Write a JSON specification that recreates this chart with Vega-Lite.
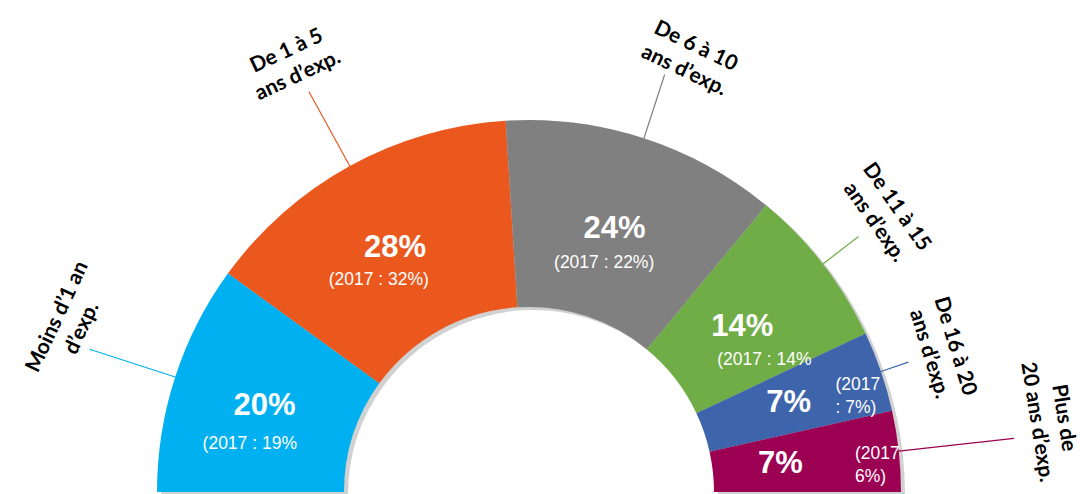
{
  "$schema": "https://vega.github.io/schema/vega-lite/v6.json",
  "width": 1058,
  "height": 494,
  "autosize": {"type": "none"},
  "padding": {"left": 0, "top": 0, "right": 28, "bottom": 0},
  "background": "white",
  "config": {"view": {"stroke": null}},
  "data": {
    "values": [
      {"cat": "Moins d’1 an d’exp.", "order": 1, "share": 0.20, "sub": "(2017 : 19%", "label": "Moins  d’1 an\nd’exp."},
      {"cat": "De 1 à 5 ans d’exp.", "order": 2, "share": 0.28, "sub": "(2017 : 32%)", "label": "De 1 à 5\nans d’exp."},
      {"cat": "De 6 à 10 ans d’exp.", "order": 3, "share": 0.24, "sub": "(2017 : 22%)", "label": "De 6 à 10\nans d’exp."},
      {"cat": "De 11 à 15 ans d’exp.", "order": 4, "share": 0.14, "sub": "(2017 : 14%", "label": "De 11 à 15\nans d’exp."},
      {"cat": "De 16 à 20 ans d’exp.", "order": 5, "share": 0.07, "sub": "(2017\n: 7%)", "label": "De 16 à 20\nans d’exp."},
      {"cat": "Plus de 20 ans d’exp.", "order": 6, "share": 0.07, "sub": "(2017\n6%)", "label": "Plus de\n20 ans d’exp."}
    ]
  },
  "transform": [
    {"stack": "share", "groupby": [], "sort": [{"field": "order", "order": "ascending"}], "as": ["s0", "s1"]},
    {"fold": ["s0", "s1"], "as": ["edge", "pos"]},
    {"aggregate": [
      {"op": "min", "field": "pos", "as": "t0"},
      {"op": "max", "field": "pos", "as": "t1"},
      {"op": "mean", "field": "pos", "as": "mid"}
    ], "groupby": ["cat", "order", "share", "sub", "label"]}
  ],
  "resolve": {"scale": {"radius": "independent", "angle": "independent"}},
  "layer": [
    {
      "mark": {"type": "arc", "x": {"expr": "width/2 + 4"}, "y": {"expr": "height + 1"}, "outerRadius": 372, "innerRadius": 185, "color": "#000000", "opacity": 0.18},
      "encoding": {
        "theta": {"field": "t0", "type": "quantitative", "stack": null, "scale": {"domain": [0, 1], "range": [-1.5708, 1.5708]}},
        "theta2": {"field": "t1"}
      }
    },
    {
      "mark": {"type": "arc", "x": {"expr": "width/2"}, "y": {"expr": "height - 2"}, "outerRadius": 372, "innerRadius": 185},
      "encoding": {
        "theta": {"field": "t0", "type": "quantitative", "stack": null},
        "theta2": {"field": "t1"},
        "color": {
          "field": "cat", "type": "nominal", "legend": null,
          "scale": {
            "domain": ["Moins d’1 an d’exp.", "De 1 à 5 ans d’exp.", "De 6 à 10 ans d’exp.", "De 11 à 15 ans d’exp.", "De 16 à 20 ans d’exp.", "Plus de 20 ans d’exp."],
            "range": ["#00B0F0", "#EB581E", "#808080", "#70AD47", "#3E64AB", "#9C0052"]
          }
        }
      }
    },
    {
      "mark": {"type": "arc", "filled": false, "x": {"expr": "width/2"}, "y": {"expr": "height - 2"}, "innerRadius": 372, "padAngle": 3.14, "strokeWidth": 1.2},
      "encoding": {
        "theta": {"field": "t0", "type": "quantitative", "stack": null},
        "theta2": {"field": "t1"},
        "radius": {"field": "order", "type": "quantitative", "scale": {"type": "linear", "zero": false, "nice": false, "domain": [1, 2, 3, 4, 5, 6], "range": [462, 457, 439, 417, 401, 488]}},
        "color": {"field": "cat", "type": "nominal", "legend": null}
      }
    },
    {
      "mark": {"type": "text", "x": {"expr": "width/2"}, "y": {"expr": "height - 2"}, "font": "Liberation Sans", "fontWeight": "bold", "fontSize": 31, "color": "white", "baseline": "middle", "align": "center"},
      "encoding": {
        "theta": {"field": "mid", "type": "quantitative", "stack": null},
        "radius": {"field": "order", "type": "quantitative", "scale": {"type": "linear", "zero": false, "nice": false, "domain": [1, 2, 3, 4, 5, 6], "range": [278, 278, 277, 270, 274.5, 253]}},
        "text": {"field": "share", "type": "quantitative", "format": ".0%"}
      }
    },
    {
      "mark": {"type": "text", "x": {"expr": "width/2"}, "y": {"expr": "height - 2"}, "dx": -12, "dy": 39, "font": "Liberation Sans", "fontSize": 17.5, "color": "white", "baseline": "middle", "align": "center"},
      "encoding": {
        "theta": {"field": "mid", "type": "quantitative", "stack": null},
        "radius": {"field": "order", "type": "quantitative", "scale": {"type": "linear", "zero": false, "nice": false, "domain": [1, 2, 3, 4, 5, 6], "range": [281, 287, 282, 282, 282, 282]}},
        "text": {"condition": {"test": "datum.order <= 3", "field": "sub"}, "value": ""}
      }
    },
    {
      "mark": {"type": "text", "x": {"expr": "width/2"}, "y": {"expr": "height - 2"}, "dx": 22, "dy": 33, "font": "Liberation Sans", "fontSize": 17.5, "color": "white", "baseline": "middle", "align": "center"},
      "encoding": {
        "theta": {"field": "mid", "type": "quantitative", "stack": null},
        "radius": {"field": "order", "type": "quantitative", "scale": {"type": "linear", "zero": false, "nice": false, "domain": [1, 2, 3, 4, 5, 6], "range": [270, 270, 270, 270, 270, 270]}},
        "text": {"condition": {"test": "datum.order == 4", "field": "sub"}, "value": ""}
      }
    },
    {
      "mark": {"type": "text", "x": {"expr": "width/2"}, "y": {"expr": "height - 2"}, "dy": -2, "font": "Liberation Sans", "fontSize": 17.5, "color": "white", "baseline": "middle", "align": "left", "lineBreak": "\n", "lineHeight": 23},
      "encoding": {
        "theta": {"field": "mid", "type": "quantitative", "stack": null},
        "radius": {"field": "order", "type": "quantitative", "scale": {"type": "linear", "zero": false, "nice": false, "domain": [1, 2, 3, 4, 5, 6], "range": [324, 324, 324, 324, 324, 328]}},
        "text": {"condition": {"test": "datum.order >= 5", "field": "sub"}, "value": ""}
      }
    },
    {
      "mark": {"type": "text", "x": {"expr": "width/2"}, "y": {"expr": "height - 2"}, "dx": 21, "font": "Lato", "fontWeight": "bold", "fontSize": 21, "color": "#000000", "baseline": "middle", "align": "center", "lineBreak": "\n", "lineHeight": 27},
      "encoding": {
        "theta": {"field": "mid", "type": "quantitative", "stack": null},
        "radius": {"field": "order", "type": "quantitative", "scale": {"type": "linear", "zero": false, "nice": false, "domain": [1, 2, 3, 4, 5, 6], "range": [505, 503, 478, 465, 450, 540]}},
        "angle": {"field": "order", "type": "quantitative", "scale": {"type": "linear", "zero": false, "nice": false, "domain": [1, 2, 3, 4, 5, 6], "range": [-65, -25, 25.6, 55, 73, 81]}},
        "text": {"condition": {"test": "datum.order == 1 || datum.order == 3", "field": "label"}, "value": ""}
      }
    },
    {
      "mark": {"type": "text", "x": {"expr": "width/2"}, "y": {"expr": "height - 2"}, "font": "Lato", "fontWeight": "bold", "fontSize": 21, "color": "#000000", "baseline": "middle", "align": "center", "lineBreak": "\n", "lineHeight": 27},
      "encoding": {
        "theta": {"field": "mid", "type": "quantitative", "stack": null},
        "radius": {"field": "order", "type": "quantitative", "scale": {"type": "linear", "zero": false, "nice": false, "domain": [1, 2, 3, 4, 5, 6], "range": [505, 503, 478, 465, 450, 540]}},
        "angle": {"field": "order", "type": "quantitative", "scale": {"type": "linear", "zero": false, "nice": false, "domain": [1, 2, 3, 4, 5, 6], "range": [-65, -25, 25.6, 55, 73, 81]}},
        "text": {"condition": {"test": "datum.order == 2 || datum.order == 4 || datum.order == 5", "field": "label"}, "value": ""}
      }
    },
    {
      "mark": {"type": "text", "x": {"expr": "width/2"}, "y": {"expr": "height - 2"}, "dx": -15, "font": "Lato", "fontWeight": "bold", "fontSize": 21, "color": "#000000", "baseline": "middle", "align": "center", "lineBreak": "\n", "lineHeight": 27},
      "encoding": {
        "theta": {"field": "mid", "type": "quantitative", "stack": null},
        "radius": {"field": "order", "type": "quantitative", "scale": {"type": "linear", "zero": false, "nice": false, "domain": [1, 2, 3, 4, 5, 6], "range": [505, 503, 478, 465, 450, 540]}},
        "angle": {"field": "order", "type": "quantitative", "scale": {"type": "linear", "zero": false, "nice": false, "domain": [1, 2, 3, 4, 5, 6], "range": [-65, -25, 25.6, 55, 73, 81]}},
        "text": {"condition": {"test": "datum.order == 6", "field": "label"}, "value": ""}
      }
    }
  ]
}
